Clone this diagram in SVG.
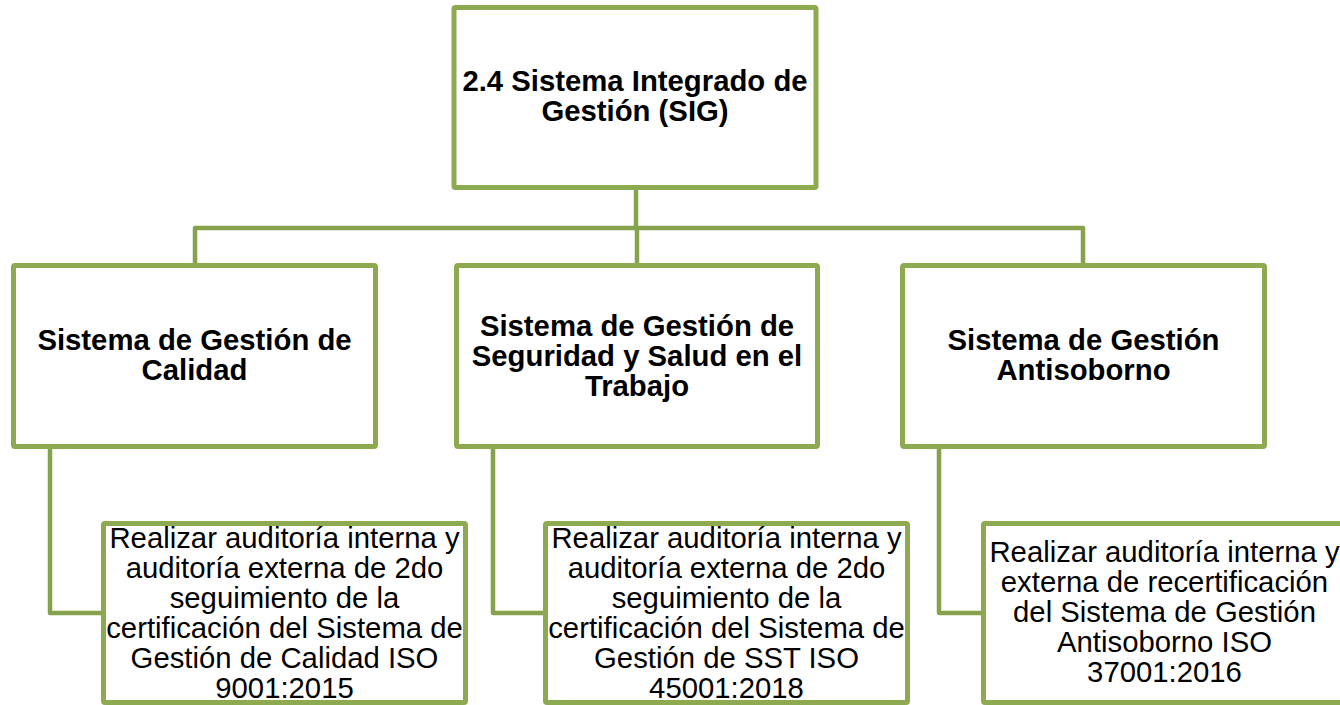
<svg xmlns="http://www.w3.org/2000/svg" width="1340" height="705" viewBox="0 0 1340 705">
<style>
.box{fill:#ffffff;stroke:#8DAA50;stroke-width:5;}
.con{fill:none;stroke:#86A24C;stroke-width:4.5;stroke-linejoin:round;}
.b{font-family:"Liberation Sans",Arial,sans-serif;font-weight:bold;font-size:29.3px;fill:#000;text-anchor:middle;}
.r{font-family:"Liberation Sans",Arial,sans-serif;font-size:29.3px;fill:#000;text-anchor:middle;}
</style>
<rect width="1340" height="705" fill="#ffffff"/>
<g id="connectors">
<path class="con" d="M636,190 V228"/>
<path class="con" d="M195,263 V228 H1083 V263"/>
<path class="con" d="M637,228 V263"/>
<path class="con" d="M50,449 V613 H103"/>
<path class="con" d="M493,449 V613 H545"/>
<path class="con" d="M939,449 V613 H983"/>
</g>
<g id="root">
<rect class="box" x="454" y="7.5" width="362" height="180" rx="1.5"/>
<text class="b" x="635" y="91">2.4 Sistema Integrado de</text>
<text class="b" x="635" y="121">Gestión (SIG)</text>
</g>
<g id="calidad">
<rect class="box" x="13.5" y="265.5" width="362" height="181" rx="1.5"/>
<text class="b" x="194.5" y="350">Sistema de Gestión de</text>
<text class="b" x="194.5" y="380">Calidad</text>
</g>
<g id="sst">
<rect class="box" x="456.5" y="265.5" width="361" height="181" rx="1.5"/>
<text class="b" x="637" y="336">Sistema de Gestión de</text>
<text class="b" x="637" y="366">Seguridad y Salud en el</text>
<text class="b" x="637" y="396">Trabajo</text>
</g>
<g id="antisoborno">
<rect class="box" x="902.5" y="265.5" width="362" height="181" rx="1.5"/>
<text class="b" x="1083.5" y="350">Sistema de Gestión</text>
<text class="b" x="1083.5" y="380">Antisoborno</text>
</g>
<g id="leaf-calidad">
<rect class="box" x="103.5" y="523.5" width="362" height="179" rx="1.5"/>
<text class="r" x="284.5" y="548">Realizar auditoría interna y</text>
<text class="r" x="284.5" y="578">auditoría externa de 2do</text>
<text class="r" x="284.5" y="608">seguimiento de la</text>
<text class="r" x="284.5" y="638">certificación del Sistema de</text>
<text class="r" x="284.5" y="668">Gestión de Calidad ISO</text>
<text class="r" x="284.5" y="698">9001:2015</text>
</g>
<g id="leaf-sst">
<rect class="box" x="545.5" y="523.5" width="362" height="179" rx="1.5"/>
<text class="r" x="726.5" y="548">Realizar auditoría interna y</text>
<text class="r" x="726.5" y="578">auditoría externa de 2do</text>
<text class="r" x="726.5" y="608">seguimiento de la</text>
<text class="r" x="726.5" y="638">certificación del Sistema de</text>
<text class="r" x="726.5" y="668">Gestión de SST ISO</text>
<text class="r" x="726.5" y="698">45001:2018</text>
</g>
<g id="leaf-antisoborno">
<rect class="box" x="983.5" y="523.5" width="362" height="179" rx="1.5"/>
<text class="r" x="1164.5" y="562">Realizar auditoría interna y</text>
<text class="r" x="1164.5" y="592">externa de recertificación</text>
<text class="r" x="1164.5" y="622">del Sistema de Gestión</text>
<text class="r" x="1164.5" y="652">Antisoborno ISO</text>
<text class="r" x="1164.5" y="682">37001:2016</text>
</g>
</svg>
